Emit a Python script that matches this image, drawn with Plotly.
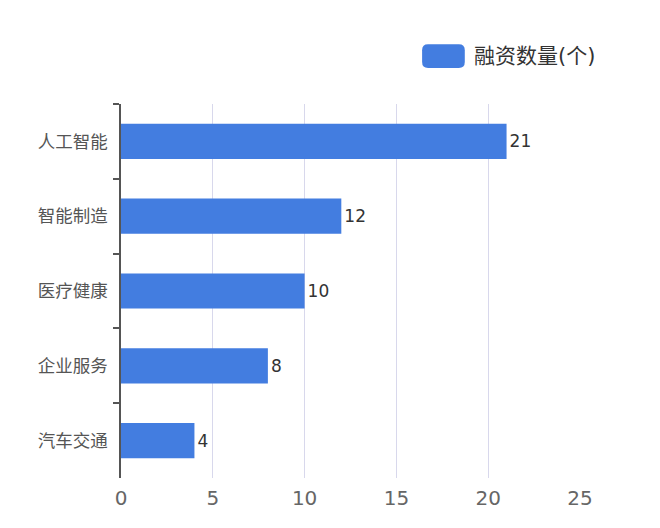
import plotly.graph_objects as go

categories = ["人工智能", "智能制造", "医疗健康", "企业服务", "汽车交通"]
values = [21, 12, 10, 8, 4]
series_name = "融资数量(个)"
x_ticks = [0, 5, 10, 15, 20, 25]

FONT = "DejaVu Sans, Noto Sans CJK SC, sans-serif"
BLUE = "#437de0"

fig = go.Figure(go.Bar(
    y=categories, x=values, orientation="h", name=series_name,
    marker=dict(color=BLUE, line=dict(width=0)),
    width=0.47,
    text=[str(v) for v in values], textposition="outside",
    textfont=dict(size=17, color="#333333", family=FONT),
    cliponaxis=False, showlegend=False,
))

fig.update_layout(
    width=660, height=528,
    margin=dict(l=121, r=80, t=104, b=50),
    paper_bgcolor="white", plot_bgcolor="white",
    font=dict(family=FONT),
    bargap=0.5,
)
fig.update_xaxes(
    range=[0, 25], tickvals=x_ticks, showgrid=True, gridcolor="#d8d8ec", gridwidth=1,
    zeroline=False, showline=False, ticks="",
    tickfont=dict(size=20, color="#666666", family=FONT), ticklabelstandoff=6,
)
fig.update_yaxes(
    categoryorder="array", categoryarray=categories, autorange="reversed",
    showline=True, linecolor="#555555", linewidth=1.5,
    ticks="outside", ticklen=6, tickcolor="#555555", tickwidth=1.5, tickson="boundaries",
    tickfont=dict(size=17.5, color="#555555", family=FONT), showgrid=False, ticklabelstandoff=8,
)

# legend-like marker (plot-area paper coordinates)
x0, x1, y0, y1 = 0.656, 0.749, 1.096, 1.160
rx, ry = 0.013, 0.016
path = (f"M {x0} {y0+ry} L {x0} {y1-ry} Q {x0} {y1} {x0+rx} {y1} "
        f"L {x1-rx} {y1} Q {x1} {y1} {x1} {y1-ry} L {x1} {y0+ry} "
        f"Q {x1} {y0} {x1-rx} {y0} L {x0+rx} {y0} Q {x0} {y0} {x0} {y0+ry} Z")
fig.add_shape(type="path", xref="paper", yref="paper", path=path,
              fillcolor=BLUE, line=dict(width=0))
fig.add_annotation(text=series_name, xref="paper", yref="paper", x=0.765, y=1.128,
                   xanchor="left", yanchor="middle", showarrow=False,
                   font=dict(size=21, color="#333333", family=FONT))

fig.write_html("out.html")
